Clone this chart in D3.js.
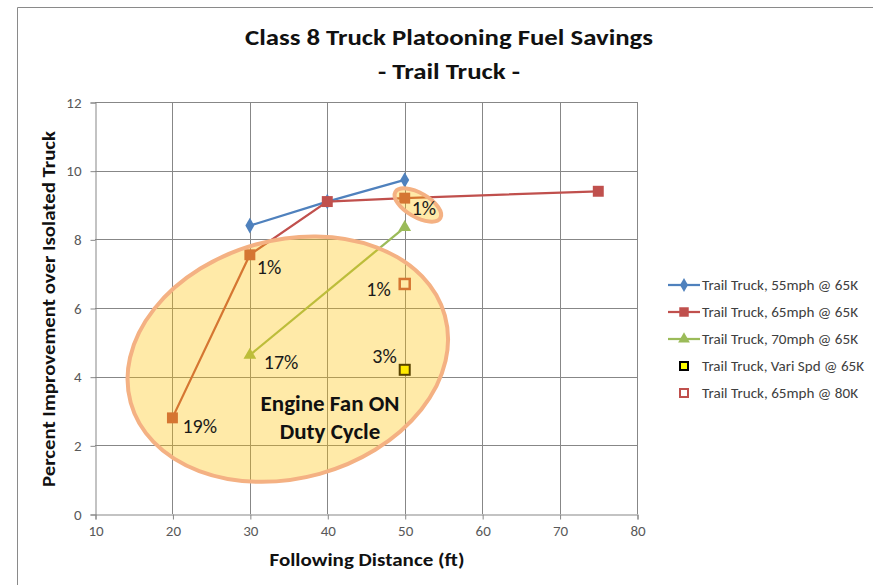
<!DOCTYPE html>
<html>
<head>
<meta charset="utf-8">
<script src="https://cdn.jsdelivr.net/npm/d3@7"></script>
<style>
  body { margin: 0; background: #fff; }
  svg { display: block; font-family: Calibri, Carlito, "Open Sans", sans-serif; }
</style>
</head>
<body>
<svg id="chart" width="873" height="585"></svg>
<script>
// values
let xTicks = [10, 20, 30, 40, 50, 60, 70, 80];
let yTicks = [0, 2, 4, 6, 8, 10, 12];

let seriesNames = [
    'Trail Truck, 55mph @ 65K',
    'Trail Truck, 65mph @ 65K',
    'Trail Truck, 70mph @ 65K',
    'Trail Truck, Vari Spd @ 65K',
    'Trail Truck, 65mph @ 80K',
];

let dist55 = [30, 40, 50];
let save55 = [8.4, 9.1, 9.73];
let dist65 = [20, 30, 40, 50, 75];
let save65 = [2.8, 7.55, 9.1, 9.2, 9.4];
let dist70 = [30, 50];
let save70 = [4.63, 8.35];
let distVari = [50];
let saveVari = [4.2];
let dist80k = [50];
let save80k = [6.7];

let calloutText = ['19%', '1%', '1%', '17%', '1%', '3%'];
let calloutX = [20, 30, 50, 30, 50, 50];
let calloutY = [2.8, 7.55, 9.2, 4.63, 6.7, 4.2];

let noteLines = ['Engine Fan ON', 'Duty Cycle'];

let svg = d3.select('#chart');
let x = d3.scaleLinear().domain([10, 80]).range([95, 637]);
let y = d3.scaleLinear().domain([0, 12]).range([514, 102]);

let blue = '#4F81BD', red = '#C0504D', green = '#9BBB59';
let gridColor = '#878787';

// outer frame (only top and left edges show)
svg.append('path')
    .attr('d', 'M17.5,585 L17.5,7.5 L873,7.5')
    .attr('fill', 'none').attr('stroke', '#8a8a8a');

// titles
let fit = (sel, len) => sel.attr('textLength', len).attr('lengthAdjust', 'spacingAndGlyphs');
fit(svg.append('text').attr('x', 449).attr('y', 45).attr('text-anchor', 'middle')
    .attr('font-size', 23).attr('font-weight', 'bold').attr('fill', '#111')
    .text('Class 8 Truck Platooning Fuel Savings'), 408);
fit(svg.append('text').attr('x', 449).attr('y', 79).attr('text-anchor', 'middle')
    .attr('font-size', 23).attr('font-weight', 'bold').attr('fill', '#111')
    .text('- Trail Truck -'), 142);

// grid
let grid = svg.append('g');
grid.selectAll('line.gx').data(xTicks.slice(1)).enter().append('line')
    .attr('x1', d => Math.round(x(d)) + 0.5).attr('x2', d => Math.round(x(d)) + 0.5)
    .attr('y1', y(12)).attr('y2', y(0)).attr('stroke', gridColor);
grid.selectAll('line.gy').data(yTicks.slice(1)).enter().append('line')
    .attr('y1', d => Math.round(y(d)) + 0.5).attr('y2', d => Math.round(y(d)) + 0.5)
    .attr('x1', x(10)).attr('x2', x(80)).attr('stroke', gridColor);

// axes
let xAxis = svg.append('g').attr('transform', `translate(0.5,${y(0) + 0.5})`)
    .call(d3.axisBottom(x).tickValues(xTicks).tickSize(5).tickPadding(6));
let yAxis = svg.append('g').attr('transform', `translate(${x(10) + 0.5},0.5)`)
    .call(d3.axisLeft(y).tickValues(yTicks).tickSize(5).tickPadding(9));
[xAxis, yAxis].forEach(a => {
    a.select('.domain').attr('stroke', gridColor);
    a.selectAll('.tick line').attr('stroke', gridColor);
    a.selectAll('.tick text').attr('fill', '#595959').attr('font-size', 15)
        .attr('font-family', 'Calibri, Carlito, "Open Sans", sans-serif');
});

fit(svg.append('text').attr('x', 367).attr('y', 566).attr('text-anchor', 'middle')
    .attr('font-size', 18).attr('font-weight', 'bold').attr('fill', '#111')
    .text('Following Distance (ft)'), 195);
fit(svg.append('text').attr('transform', 'translate(55,309) rotate(-90)').attr('text-anchor', 'middle')
    .attr('font-size', 18).attr('font-weight', 'bold').attr('fill', '#111')
    .text('Percent Improvement over Isolated Truck'), 356);

// series
let zip = (xs, ys) => xs.map((d, i) => [d, ys[i]]);
let line = d3.line().x(d => x(d[0])).y(d => y(d[1]));
let plot = svg.append('g');

function drawLine(pts, color) {
    plot.append('path').datum(pts).attr('d', line)
        .attr('fill', 'none').attr('stroke', color).attr('stroke-width', 2.25);
}
drawLine(zip(dist55, save55), blue);
drawLine(zip(dist65, save65), red);
drawLine(zip(dist70, save70), green);

function symbols(pts, type, size, color) {
    plot.selectAll(null).data(pts).enter().append('path')
        .attr('d', d3.symbol().type(type).size(size))
        .attr('transform', d => `translate(${x(d[0])},${y(d[1])})`)
        .attr('fill', color);
}
symbols(zip(dist55, save55), d3.symbolDiamond, 70, blue);
symbols(zip(dist65, save65), d3.symbolSquare, 120, red);
symbols(zip(dist70, save70), d3.symbolTriangle, 70, green);

plot.selectAll(null).data(zip(distVari, saveVari)).enter().append('rect')
    .attr('x', d => x(d[0]) - 5).attr('y', d => y(d[1]) - 5)
    .attr('width', 10).attr('height', 10)
    .attr('fill', '#FFFF00').attr('stroke', '#000').attr('stroke-width', 2);
plot.selectAll(null).data(zip(dist80k, save80k)).enter().append('rect')
    .attr('x', d => x(d[0]) - 5).attr('y', d => y(d[1]) - 5)
    .attr('width', 10).attr('height', 10)
    .attr('fill', '#fff').attr('stroke', red).attr('stroke-width', 2.5);

// highlight ellipses, semi transparent over the marks
let shapes = svg.append('g');
shapes.append('ellipse')
    .attr('transform', `translate(${x(34.9)},${y(4.51)}) rotate(-15.5)`)
    .attr('rx', 163).attr('ry', 119)
    .attr('fill', '#FFC000').attr('fill-opacity', 0.34)
    .attr('stroke', '#F4B183').attr('stroke-width', 4);
shapes.append('ellipse')
    .attr('transform', `translate(${x(51.7)},${y(9.0)}) rotate(30)`)
    .attr('rx', 26).attr('ry', 12)
    .attr('fill', '#FFC000').attr('fill-opacity', 0.34)
    .attr('stroke', '#F4B183').attr('stroke-width', 4);

// percent callouts
let calloutDx = [10, 7, 7, 14, -14, -8];
let calloutDy = [15, 19, 17, 14, 12, -7];
let calloutAnchor = ['start', 'start', 'start', 'start', 'end', 'end'];
svg.append('g').selectAll('text').data(calloutText).enter().append('text')
    .attr('x', (d, i) => x(calloutX[i]) + calloutDx[i])
    .attr('y', (d, i) => y(calloutY[i]) + calloutDy[i])
    .attr('text-anchor', (d, i) => calloutAnchor[i])
    .attr('font-size', 20).attr('fill', '#1a1a1a')
    .text(d => d);

svg.append('g').selectAll('text').data(noteLines).enter().append('text')
    .attr('x', 330).attr('y', (d, i) => 411 + i * 28)
    .attr('text-anchor', 'middle').attr('font-size', 23).attr('font-weight', 'bold')
    .attr('fill', '#111').text(d => d);

// legend
let legend = svg.append('g');
let rowY = [285, 312, 339, 366, 393];
let legendColors = [blue, red, green];
let legendSymbols = [d3.symbolDiamond, d3.symbolSquare, d3.symbolTriangle];
let legendSizes = [55, 90, 60];
seriesNames.forEach((name, i) => {
    let g = legend.append('g').attr('transform', `translate(0,${rowY[i]})`);
    if (i < 3) {
        g.append('line').attr('x1', 668).attr('x2', 700)
            .attr('stroke', legendColors[i]).attr('stroke-width', 2.25);
        g.append('path').attr('d', d3.symbol().type(legendSymbols[i]).size(legendSizes[i]))
            .attr('transform', 'translate(684,0)').attr('fill', legendColors[i]);
    } else {
        g.append('rect').attr('x', 680).attr('y', -4).attr('width', 8).attr('height', 8)
            .attr('fill', i === 3 ? '#FFFF00' : '#fff')
            .attr('stroke', i === 3 ? '#000' : red).attr('stroke-width', 2);
    }
    fit(g.append('text').attr('x', 702).attr('y', 5).attr('font-size', 15)
        .attr('fill', '#404040').text(name), i === 3 ? 162 : 156);
});
</script>
</body>
</html>
